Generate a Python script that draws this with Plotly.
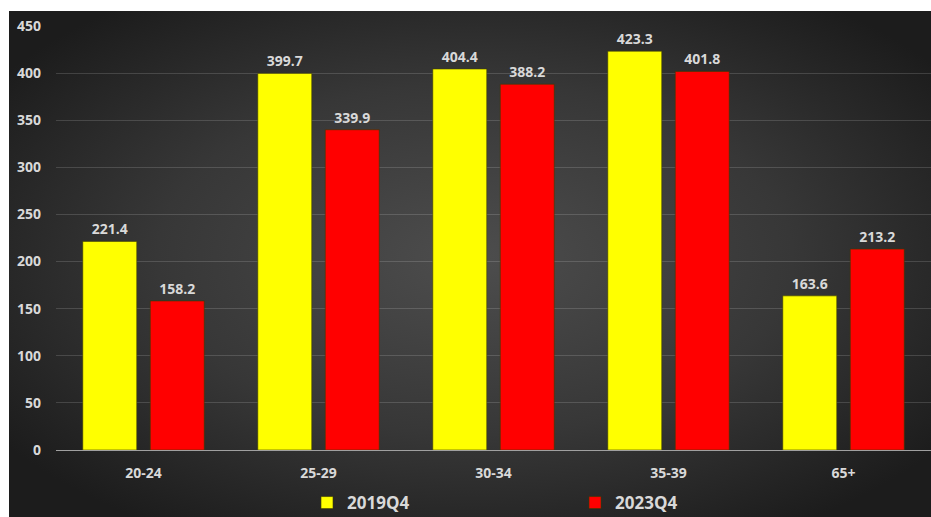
import base64
import plotly.graph_objects as go

# Age groups and the two quarters compared
age_groups = ["20-24", "25-29", "30-34", "35-39", "65+"]
q2019 = [221.4, 399.7, 404.4, 423.3, 163.6]
q2023 = [158.2, 339.9, 388.2, 401.8, 213.2]
series_names = ["2019Q4", "2023Q4"]
y_ticks = [0, 50, 100, 150, 200, 250, 300, 350, 400, 450]

W, H = 931, 517
M_L, M_R, M_T, M_B = 56, 0, 26, 67
plot_w = W - M_L - M_R
plot_h = H - M_T - M_B

FONT = "Open Sans"
TXT = "#d9d9d9"

fig = go.Figure()
for name, vals, col in [(series_names[0], q2019, "#ffff00"),
                        (series_names[1], q2023, "#ff0000")]:
    fig.add_trace(go.Bar(
        x=age_groups, y=vals, name=name,
        marker=dict(color=col, line=dict(color="rgba(60,60,0,0.6)", width=1)),
        text=[f"{v:.1f}" for v in vals],
        textposition="outside",
        textfont=dict(family=FONT, size=14, color=TXT, weight="bold"),
        cliponaxis=False,
    ))

# dark radial-gradient backdrop behind the plot
svg = (
    "<svg xmlns='http://www.w3.org/2000/svg' width='940' height='520' "
    "preserveAspectRatio='none'><defs><radialGradient id='g' cx='50%' cy='48%' r='62%'>"
    "<stop offset='0' stop-color='#4d4d4d'/><stop offset='0.55' stop-color='#373737'/>"
    "<stop offset='1' stop-color='#1c1c1c'/></radialGradient></defs>"
    "<rect width='100%' height='100%' fill='url(#g)'/></svg>"
)
bg_src = "data:image/svg+xml;base64," + base64.b64encode(svg.encode()).decode()
bg_left, bg_top = 9, 11
bg_right, bg_bottom = W + 10, H + 10


def px_x(p):
    return (p - M_L) / plot_w


def px_y(p):
    return (H - M_B - p) / plot_h


fig.add_layout_image(
    source=bg_src, xref="paper", yref="paper",
    x=px_x(bg_left), y=px_y(bg_top),
    sizex=(bg_right - bg_left) / plot_w, sizey=(bg_bottom - bg_top) / plot_h,
    xanchor="left", yanchor="top", sizing="stretch", layer="below",
)

# thin white border strips along the top and left edges
for x0, y0, x1, y1 in [(-5, -5, W + 5, bg_top), (-5, -5, bg_left, H + 5)]:
    fig.add_shape(type="rect", xref="paper", yref="paper",
                  x0=px_x(x0), x1=px_x(x1), y0=px_y(y1), y1=px_y(y0),
                  fillcolor="white", line=dict(width=0), layer="below")

fig.update_layout(
    width=W, height=H, autosize=False,
    margin=dict(l=M_L, r=M_R, t=M_T, b=M_B, pad=0),
    paper_bgcolor="#1d1d1d", plot_bgcolor="rgba(0,0,0,0)",
    barmode="group", bargap=0.229, bargroupgap=0.2,
    font=dict(family=FONT, color=TXT),
    showlegend=True,
    legend=dict(
        orientation="h", x=px_x(307), xanchor="left",
        yref="container", y=(H - 503) / H, yanchor="middle",
        font=dict(family=FONT, size=17, color=TXT, weight="bold"),
        entrywidth=223, entrywidthmode="pixels",
        bgcolor="rgba(0,0,0,0)",
    ),
)
fig.update_yaxes(
    range=[0, 450], tickvals=y_ticks, showgrid=True,
    gridcolor="rgba(255,255,255,0.15)", gridwidth=1,
    zeroline=True, zerolinecolor="#a0a0a0", zerolinewidth=1,
    tickfont=dict(family=FONT, size=14, color=TXT, weight="bold"),
    ticks="", ticklabelstandoff=14, showline=False, automargin=False,
)
fig.update_xaxes(
    tickfont=dict(family=FONT, size=14, color=TXT, weight="bold"),
    ticks="", ticklabelstandoff=13, showline=False, automargin=False,
)

# page background matches the chart's dark edge
fig.write_html(
    "out.html",
    config={"displayModeBar": False},
    post_script="document.body.style.margin='0';"
                "document.body.style.background='#1d1d1d';"
                "document.documentElement.style.background='#1d1d1d';"
                "document.documentElement.style.overflow='hidden';"
                "document.body.style.overflow='hidden';",
)
